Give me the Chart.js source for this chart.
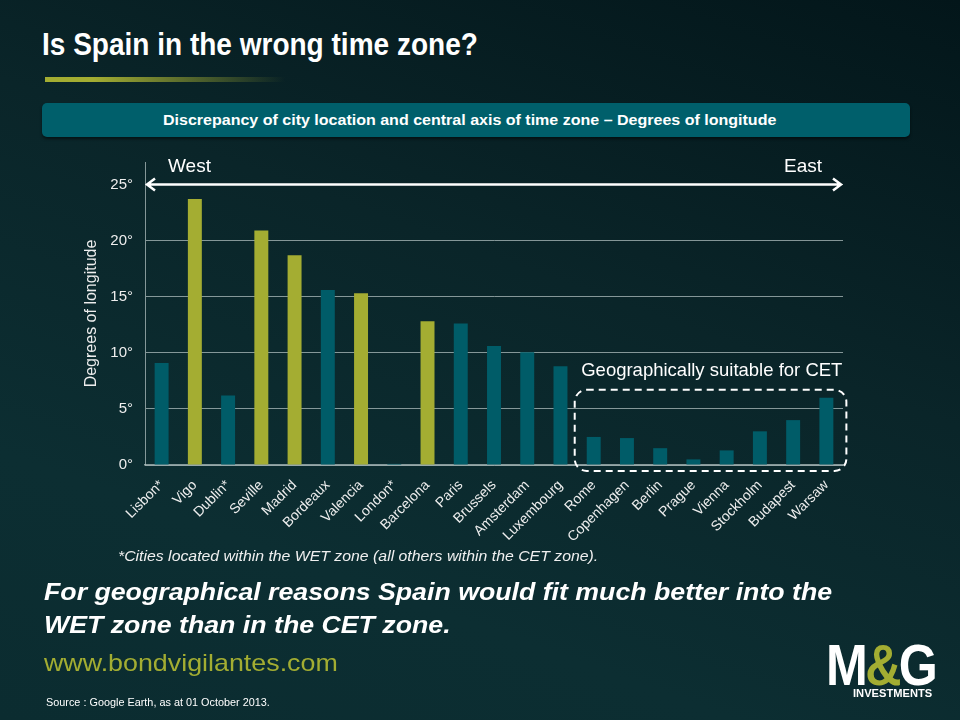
<!DOCTYPE html>
<html>
<head>
<meta charset="utf-8">
<script src="https://cdn.jsdelivr.net/npm/chart.js@4.4.1/dist/chart.umd.min.js"></script>
<style>
  html, body { margin: 0; padding: 0; }
  body {
    width: 960px; height: 720px; position: relative; overflow: hidden;
    background: linear-gradient(200deg, #03161a 0%, #0a2529 40%, #0c2e32 75%, #0b2c30 100%);
    font-family: 'Liberation Sans', Arial, sans-serif;
    color: #fff;
  }
  .abs { position: absolute; white-space: nowrap; transform-origin: 0 0; }
  #title { left: 42px; top: 28px; font: bold 32px 'Liberation Sans', Arial, sans-serif; line-height: 1; }
  #rule { left: 45px; top: 77px; width: 240px; height: 5px;
    background: linear-gradient(90deg, #a3ad32 0%, #a3ad32 20%, rgba(163,173,50,0) 100%); }
  #banner { left: 42px; top: 103px; width: 868px; height: 34px;
    background: #005f6b; border-radius: 5px;
    box-shadow: 0 2px 3px rgba(0,0,0,0.5); }
  #bannerText { left: 163px; top: 112px; font: bold 15px 'Liberation Sans', Arial, sans-serif; line-height: 1; }
  #note { left: 118px; top: 548px; font: italic 15px 'Liberation Sans', Arial, sans-serif; line-height: 1; color: #f0f0f0; }
  .msg { left: 44px; font: bold italic 24px 'Liberation Sans', Arial, sans-serif; line-height: 1; }
  #msg1 { top: 580px; }
  #msg2 { top: 613px; }
  #web { left: 44px; top: 651px; font: 24px 'Liberation Sans', Arial, sans-serif; line-height: 1; color: #a3ad32; }
  #src { left: 46px; top: 697px; font: 11px 'Liberation Sans', Arial, sans-serif; line-height: 1; }
  #logo { left: 826px; top: 636px; font: bold 58px 'Liberation Sans', Arial, sans-serif; letter-spacing: -3px; line-height: 1; }
  #logo span { color: #a3ad32; }
  #inv { left: 853px; top: 689px; font: bold 10px 'Liberation Sans', Arial, sans-serif; line-height: 1; }
  canvas { position: absolute; left: 0; top: 0; }
</style>
</head>
<body>
<div class="abs" id="title" data-w="436">Is Spain in the wrong time zone?</div>
<div class="abs" id="rule"></div>
<div class="abs" id="banner"></div>
<div class="abs" id="bannerText" data-w="613">Discrepancy of city location and central axis of time zone – Degrees of longitude</div>
<canvas id="timeZoneChart" width="960" height="720"></canvas>
<div class="abs" id="note" data-w="480">*Cities located within the WET zone (all others within the CET zone).</div>
<div class="abs msg" id="msg1" data-w="788">For geographical reasons Spain would fit much better into the</div>
<div class="abs msg" id="msg2">WET zone than in the CET zone.</div>
<div class="abs" id="web" data-w="294">www.bondvigilantes.com</div>
<div class="abs" id="src" data-w="224">Source : Google Earth, as at 01 October 2013.</div>
<div class="abs" id="logo" data-w="109">M<span>&amp;</span>G</div>
<div class="abs" id="inv" data-w="79">INVESTMENTS</div>
<script>
// cities, west to east
const cities = ['Lisbon*', 'Vigo', 'Dublin*', 'Seville', 'Madrid', 'Bordeaux', 'Valencia', 'London*', 'Barcelona', 'Paris', 'Brussels', 'Amsterdam', 'Luxembourg', 'Rome', 'Copenhagen', 'Berlin', 'Prague', 'Vienna', 'Stockholm', 'Budapest', 'Warsaw'];
// degrees of longitude away from the central axis of the time zone
const discrepancy = [9.1, 23.7, 6.2, 20.9, 18.7, 15.6, 15.3, 0.1, 12.8, 12.6, 10.6, 10.05, 8.8, 2.5, 2.4, 1.5, 0.5, 1.3, 3.0, 4.0, 6.0];
const spanishCities = ['Vigo', 'Seville', 'Madrid', 'Valencia', 'Barcelona'];
const suitableCities = ['Rome', 'Copenhagen', 'Berlin', 'Prague', 'Vienna', 'Stockholm', 'Budapest', 'Warsaw'];
const yTicks = [0, 5, 10, 15, 20, 25];

const teal = '#005c68';
const olive = '#a4ad32';
const gridColor = 'rgba(185,200,200,0.7)';

const barColors = cities.map(c => spanishCities.includes(c) ? olive : teal);

// squeeze/stretch the slide texts to the widths they have in the picture
document.querySelectorAll('[data-w]').forEach(el => {
    const k = Number(el.dataset.w) / el.offsetWidth;
    el.style.transform = 'scaleX(' + k + ')';
    if (el.id === 'msg1') document.getElementById('msg2').style.transform = 'scaleX(' + k + ')';
});

// west/east arrow, labels and dashed box
const extras = {
    id: 'extras',
    afterDraw(chart) {
        const ctx = chart.ctx;
        const x = chart.scales.x;
        const y = chart.scales.y;
        const area = chart.chartArea;

        // arrow along the 25 degree line
        const ay = y.getPixelForValue(25);
        ctx.save();
        ctx.strokeStyle = '#fff';
        ctx.lineWidth = 2.5;
        ctx.beginPath();
        ctx.moveTo(area.left + 2, ay);
        ctx.lineTo(area.right - 2, ay);
        ctx.moveTo(area.left + 10, ay - 6);
        ctx.lineTo(area.left + 2, ay);
        ctx.lineTo(area.left + 10, ay + 6);
        ctx.moveTo(area.right - 10, ay - 6);
        ctx.lineTo(area.right - 2, ay);
        ctx.lineTo(area.right - 10, ay + 6);
        ctx.stroke();

        ctx.fillStyle = '#fff';
        ctx.font = '19px "Liberation Sans", Arial, sans-serif';
        ctx.textBaseline = 'middle';
        ctx.textAlign = 'left';
        ctx.fillText('West', area.left + 23, ay - 18);
        ctx.textAlign = 'right';
        ctx.fillText('East', area.right - 21, ay - 18);

        // dashed box round the CET-suitable cities
        const first = cities.indexOf(suitableCities[0]);
        const last = cities.indexOf(suitableCities[suitableCities.length - 1]);
        const bx0 = x.getPixelForValue(first) - 19;
        const bx1 = x.getPixelForValue(last) + 20;
        const by0 = y.getPixelForValue(6.7);
        const by1 = y.getPixelForValue(0) + 6;
        ctx.setLineDash([7, 5]);
        ctx.lineWidth = 2;
        ctx.beginPath();
        ctx.roundRect(bx0, by0, bx1 - bx0, by1 - by0, 12);
        ctx.stroke();
        ctx.setLineDash([]);

        ctx.font = '18.5px "Liberation Sans", Arial, sans-serif';
        ctx.textAlign = 'right';
        ctx.fillText('Geographically suitable for CET', bx1 - 4, by0 - 19);
        ctx.restore();
    }
};

function initializeTimeZoneChart() {
    const ctx = document.getElementById('timeZoneChart').getContext('2d');

    const data = {
        labels: cities,
        datasets: [{
            label: 'Degrees of longitude',
            data: discrepancy,
            backgroundColor: barColors,
            borderWidth: 0,
            barPercentage: 0.42,
            categoryPercentage: 1.0
        }]
    };

    const options = {
        responsive: false,
        animation: false,
        layout: {
            padding: { left: 78, right: 117, top: 162, bottom: 155 }
        },
        scales: {
            y: {
                min: 0,
                max: 27,
                afterBuildTicks: axis => { axis.ticks = yTicks.map(v => ({ value: v })); },
                afterFit: scale => { scale.width = 67; },
                grid: { color: gridColor, lineWidth: 1, drawTicks: false },
                border: { display: true, color: gridColor, width: 1 },
                ticks: {
                    color: '#eeeeee',
                    padding: 12,
                    font: { family: 'Liberation Sans', size: 15 },
                    callback: v => v + '°'
                },
                title: {
                    display: true,
                    text: 'Degrees of longitude',
                    color: '#eeeeee',
                    font: { family: 'Liberation Sans', size: 16 }
                }
            },
            x: {
                afterFit: scale => { scale.height = 100; },
                grid: { display: false },
                border: { display: true, color: gridColor, width: 1.5 },
                ticks: {
                    color: '#eeeeee',
                    maxRotation: 45,
                    minRotation: 45,
                    autoSkip: false,
                    padding: 4,
                    font: { family: 'Liberation Sans', size: 14 }
                }
            }
        },
        plugins: {
            legend: { display: false },
            tooltip: { enabled: false }
        }
    };

    new Chart(ctx, {
        type: 'bar',
        data: data,
        options: options,
        plugins: [extras]
    });
}

initializeTimeZoneChart();
</script>
</body>
</html>
